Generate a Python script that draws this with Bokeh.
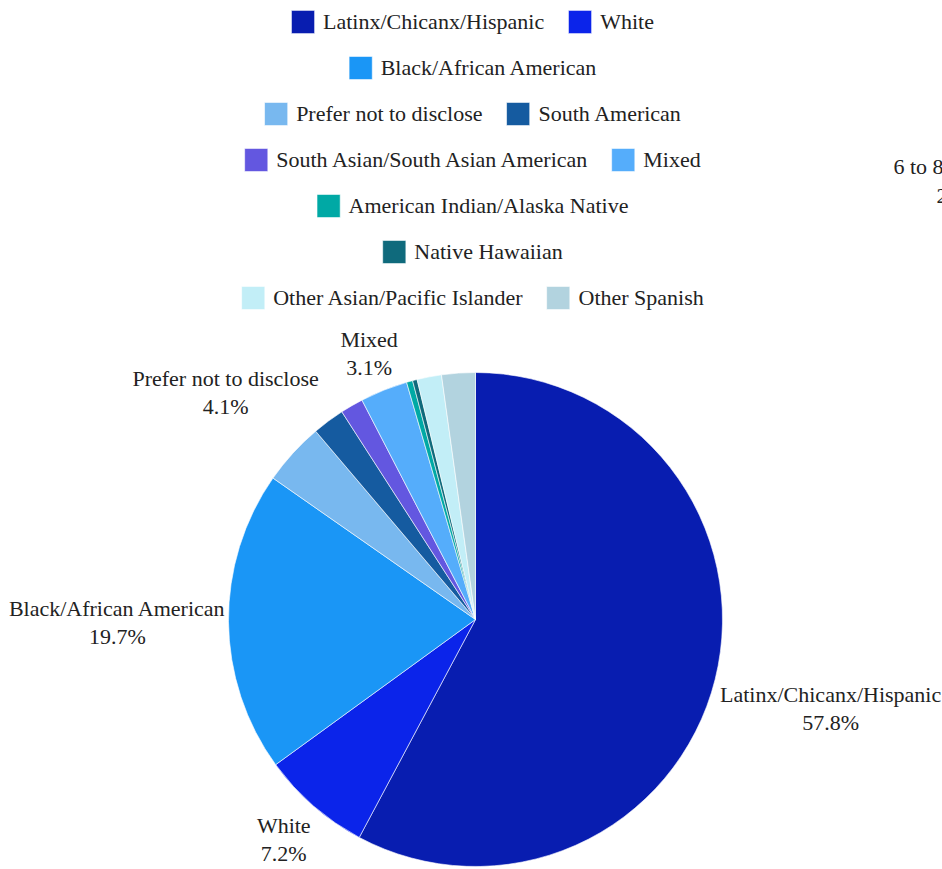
import math
from bokeh.plotting import figure
from bokeh.models import ColumnDataSource, Legend, LegendItem, Range1d
from bokeh.embed import file_html
from bokeh.resources import INLINE
from bokeh.core.properties import value

categories = [
    "Latinx/Chicanx/Hispanic",
    "White",
    "Black/African American",
    "Prefer not to disclose",
    "South American",
    "South Asian/South Asian American",
    "Mixed",
    "American Indian/Alaska Native",
    "Native Hawaiian",
    "Other Asian/Pacific Islander",
    "Other Spanish",
]
shares = [57.8, 7.2, 19.7, 4.1, 2.1, 1.5, 3.1, 0.4, 0.3, 1.6, 2.2]
colors = ["#081db0", "#0b24ea", "#1a96f6", "#78b8ef", "#155ba0", "#6357e0",
          "#55adfb", "#00a9a5", "#0f6a7c", "#c2eef7", "#b2d3df"]
legend_rows = [[0, 1], [2], [3, 4], [5, 6], [7], [8], [9, 10]]
side_texts = ["6 to 8", "2"]

# layout parameters (not data)
W, H = 942, 869
CX, CY, R = 475, 250, 247
FONT = "Liberation Serif"
FSIZE = "22px"
TXT = "#222222"
label_min_share = 3.0
label_extra = {3: 40}

total = sum(shares)
starts, ends = [], []
cum = 0.0
mids = []
for v in shares:
    starts.append(math.pi / 2 - 2 * math.pi * cum / total)
    ends.append(math.pi / 2 - 2 * math.pi * (cum + v) / total)
    mids.append((cum + v / 2) / total)
    cum += v

src = ColumnDataSource(dict(cat=categories, share=shares, color=colors,
                            start=starts, end=ends))

p = figure(width=W, height=H, output_backend="svg", toolbar_location=None,
           x_range=Range1d(0, W), y_range=Range1d(0, H),
           x_axis_location=None, y_axis_location=None, min_border=0,
           tools="")
p.outline_line_color = None
p.xgrid.visible = False
p.ygrid.visible = False
p.background_fill_color = "white"

wr = p.wedge(x=CX, y=CY, radius=R, start_angle="start", end_angle="end",
             direction="clock", fill_color="color", line_color="white",
             line_width=0.6, source=src)

# outside labels
lx, ly_name, ly_pct, names, pcts = [], [], [], [], []
for i, (name, v, m) in enumerate(zip(categories, shares, mids)):
    if v < label_min_share:
        continue
    th = 2 * math.pi * m
    dx, dy = math.sin(th), math.cos(th)
    w, h = len(name) * 9.2, 55.0
    cands = []
    if abs(dx) > 1e-6:
        cands.append(w / 2 / abs(dx))
    if abs(dy) > 1e-6:
        cands.append(h / 2 / abs(dy))
    t = min(cands)
    d = R + 10 + t + label_extra.get(i, 0)
    x0, y0 = CX + d * dx, CY + d * dy
    lx.append(x0)
    ly_name.append(y0 + 14)
    ly_pct.append(y0 - 14)
    names.append(name)
    pcts.append(f"{v:.1f}%")

p.text(x=lx, y=ly_name, text=names, text_align="center", text_baseline="middle",
       text_font=value(FONT), text_font_size=FSIZE, text_color=TXT)
p.text(x=lx, y=ly_pct, text=pcts, text_align="center", text_baseline="middle",
       text_font=value(FONT), text_font_size=FSIZE, text_color=TXT)

# fragment of neighbouring chart at right edge
p.text(x=[893, 936], y=[703, 674], text=side_texts, text_align="left",
       text_baseline="middle", text_font=value(FONT), text_font_size=FSIZE,
       text_color=TXT)

# legend rows
for r_i, row in enumerate(legend_rows):
    items = [LegendItem(label=categories[k], renderers=[wr], index=k) for k in row]
    lg = Legend(items=items, location="top_center", orientation="horizontal",
                margin=7 + 46 * r_i, padding=0, spacing=21, label_standoff=6,
                glyph_width=29, glyph_height=29, label_height=29,
                label_text_font=FONT, label_text_font_size=FSIZE,
                label_text_color=TXT, border_line_color=None,
                background_fill_alpha=0)
    p.add_layout(lg)

open("out.html", "w").write(file_html(p, INLINE))
